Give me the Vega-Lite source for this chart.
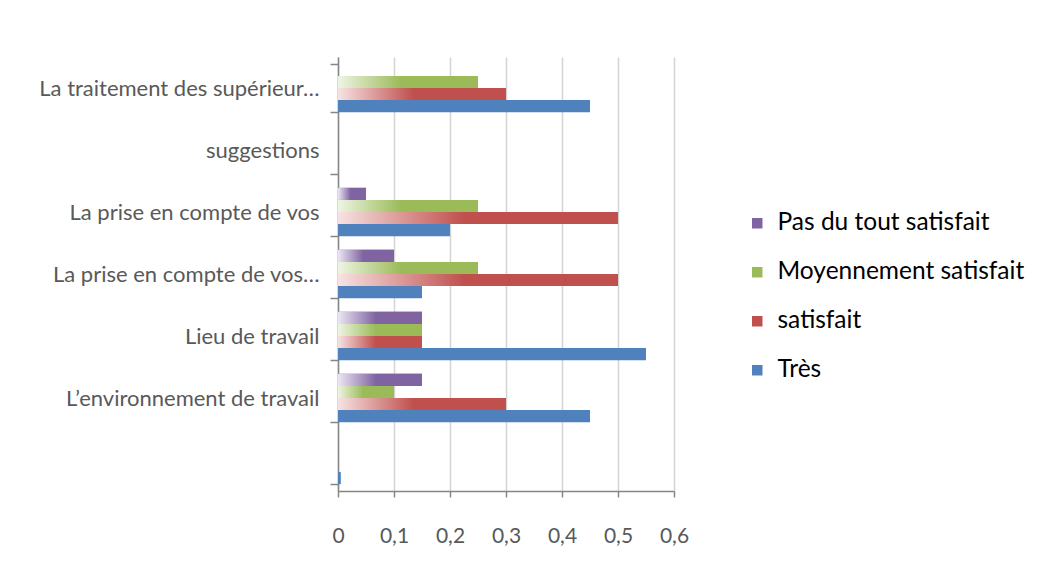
{
  "$schema": "https://vega.github.io/schema/vega-lite/v6.json",
  "autosize": {"type": "none"},
  "padding": {"left": 338, "top": 57, "right": 365, "bottom": 87},
  "width": 336,
  "height": 434,
  "background": "white",
  "data": {"values": [
    {"cat": "La traitement des supérieur…", "serie": "Très", "value": 0.45},
    {"cat": "La traitement des supérieur…", "serie": "satisfait", "value": 0.30},
    {"cat": "La traitement des supérieur…", "serie": "Moyennement satisfait", "value": 0.25},
    {"cat": "La traitement des supérieur…", "serie": "Pas du tout satisfait", "value": 0},
    {"cat": "suggestions", "serie": "Très", "value": 0},
    {"cat": "suggestions", "serie": "satisfait", "value": 0},
    {"cat": "suggestions", "serie": "Moyennement satisfait", "value": 0},
    {"cat": "suggestions", "serie": "Pas du tout satisfait", "value": 0},
    {"cat": "La prise en compte de vos", "serie": "Très", "value": 0.20},
    {"cat": "La prise en compte de vos", "serie": "satisfait", "value": 0.50},
    {"cat": "La prise en compte de vos", "serie": "Moyennement satisfait", "value": 0.25},
    {"cat": "La prise en compte de vos", "serie": "Pas du tout satisfait", "value": 0.05},
    {"cat": "La prise en compte de vos…", "serie": "Très", "value": 0.15},
    {"cat": "La prise en compte de vos…", "serie": "satisfait", "value": 0.50},
    {"cat": "La prise en compte de vos…", "serie": "Moyennement satisfait", "value": 0.25},
    {"cat": "La prise en compte de vos…", "serie": "Pas du tout satisfait", "value": 0.10},
    {"cat": "Lieu de travail", "serie": "Très", "value": 0.55},
    {"cat": "Lieu de travail", "serie": "satisfait", "value": 0.15},
    {"cat": "Lieu de travail", "serie": "Moyennement satisfait", "value": 0.15},
    {"cat": "Lieu de travail", "serie": "Pas du tout satisfait", "value": 0.15},
    {"cat": "L’environnement de travail", "serie": "Très", "value": 0.45},
    {"cat": "L’environnement de travail", "serie": "satisfait", "value": 0.30},
    {"cat": "L’environnement de travail", "serie": "Moyennement satisfait", "value": 0.10},
    {"cat": "L’environnement de travail", "serie": "Pas du tout satisfait", "value": 0.15},
    {"cat": " ", "serie": "Très", "value": 0.005}
  ]},
  "encoding": {
    "y": {
      "field": "cat", "type": "nominal", "title": null,
      "scale": {
        "domain": ["La traitement des supérieur…", "suggestions", "La prise en compte de vos", "La prise en compte de vos…", "Lieu de travail", "L’environnement de travail", " "],
        "paddingInner": 0.22, "paddingOuter": 0.11
      },
      "axis": {
        "tickBand": "extent", "grid": false,
        "domainColor": "#868686", "tickColor": "#868686", "tickSize": 8, "domainWidth": 1.5, "tickWidth": 1.5,
        "labelFont": "Lato", "labelFontSize": 22, "labelColor": "#595959", "labelPadding": 11, "labelLimit": 330
      }
    },
    "yOffset": {
      "field": "serie", "type": "nominal",
      "scale": {"domain": ["Pas du tout satisfait", "Moyennement satisfait", "satisfait", "Très"], "paddingInner": 0}
    },
    "x": {
      "field": "value", "type": "quantitative", "title": null,
      "scale": {"domain": [0, 0.6], "nice": false},
      "axis": {
        "values": [0, 0.1, 0.2, 0.3, 0.4, 0.5, 0.6],
        "labelExpr": "datum.value == 0 ? '0' : replace(format(datum.value, '.1f'), '.', ',')",
        "labelFlush": false, "labelOverlap": false,
        "grid": true, "gridColor": "#d4d4d4", "gridWidth": 1.5,
        "domainColor": "#868686", "tickColor": "#868686", "tickSize": 6, "domainWidth": 1.5, "tickWidth": 1.5,
        "labelFont": "Lato", "labelFontSize": 21, "labelColor": "#595959", "labelPadding": 28
      }
    }
  },
  "layer": [
    {
      "mark": {"type": "bar", "stroke": null},
      "encoding": {
        "color": {
          "field": "serie", "type": "nominal",
          "scale": {"domain": ["Pas du tout satisfait", "Moyennement satisfait", "satisfait", "Très"], "range": ["#8064A2", "#9BBB59", "#C0504D", "#4F81BD"]},
          "legend": {
            "title": null, "orient": "none", "legendX": 407, "legendY": 154,
            "symbolType": "square", "symbolSize": 110, "symbolStrokeWidth": 0,
            "labelFont": "Lato", "labelFontSize": 24.5, "labelColor": "#000000", "rowPadding": 24, "labelOffset": 8, "labelLimit": 320
          }
        }
      }
    },
    {
      "transform": [{"filter": "datum.serie == 'satisfait'"}],
      "mark": {"type": "bar", "color": {"gradient": "linear", "x1": 0, "x2": 1, "y1": 0, "y2": 0, "stops": [{"offset": 0, "color": "#f6e3e2"}, {"offset": 0.45, "color": "#C0504D"}, {"offset": 1, "color": "#C0504D"}]}}
    },
    {
      "transform": [{"filter": "datum.serie == 'Moyennement satisfait'"}],
      "mark": {"type": "bar", "color": {"gradient": "linear", "x1": 0, "x2": 1, "y1": 0, "y2": 0, "stops": [{"offset": 0, "color": "#eef4e3"}, {"offset": 0.45, "color": "#9BBB59"}, {"offset": 1, "color": "#9BBB59"}]}}
    },
    {
      "transform": [{"filter": "datum.serie == 'Pas du tout satisfait'"}],
      "mark": {"type": "bar", "color": {"gradient": "linear", "x1": 0, "x2": 1, "y1": 0, "y2": 0, "stops": [{"offset": 0, "color": "#ece6f3"}, {"offset": 0.45, "color": "#8064A2"}, {"offset": 1, "color": "#8064A2"}]}}
    }
  ],
  "config": {"view": {"stroke": null}}
}
